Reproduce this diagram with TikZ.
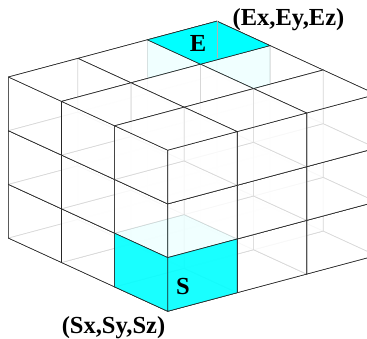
\documentclass[tikz,border=0pt]{standalone}
\usepackage{fontspec}
\setmainfont{Liberation Serif}
\definecolor{pure}{RGB}{0,255,255}
\tikzset{
  cellface/.style={fill=white,fill opacity=0.82,draw=black!85,line width=0.6pt,line join=round},
  label/.style={font=\fontsize{24.5}{26}\selectfont\bfseries,text=black,inner sep=0pt},
  lat/.style={x={(69.5pt,18.6pt)},y={(-53.1pt,24.4pt)},z={(0pt,53.7pt)},shift={(167.7pt,27.7pt)}}
}
\begin{document}
\begin{tikzpicture}[x=1pt,y=1pt]
\useasboundingbox (0,0) rectangle (367,339);
\fill[white] (0,0) rectangle (367,339);
\clip (0,0) rectangle (367,339);
\begin{scope}[lat]
  % back walls and floor
  \foreach \a in {0,1,2} \foreach \b in {0,1,2} {
    \draw[cellface] (\a,\b,0) -- ++(1,0,0) -- ++(0,1,0) -- ++(-1,0,0) -- cycle;
    \draw[cellface] (3,\a,\b) -- ++(0,1,0) -- ++(0,0,1) -- ++(0,-1,0) -- cycle;
    \draw[cellface] (\a,3,\b) -- ++(1,0,0) -- ++(0,0,1) -- ++(-1,0,0) -- cycle;
  }
  % cells, back to front
  \foreach \k in {0,1,2} \foreach \i in {2,1,0} \foreach \j in {2,1,0} {
    \draw[cellface] (\i,\j,\k) -- ++(0,1,0) -- ++(0,0,1) -- ++(0,-1,0) -- cycle;
    \draw[cellface] (\i,\j,\k) -- ++(1,0,0) -- ++(0,0,1) -- ++(-1,0,0) -- cycle;
    \draw[cellface] (\i,\j,\k+1) -- ++(1,0,0) -- ++(0,1,0) -- ++(-1,0,0) -- cycle;
  }
  % tinted faces
  \fill[pure,fill opacity=0.06] (2,2,3) -- (3,2,3) -- (2.236,1,3) -- (2,1,3) -- cycle;
  \fill[pure,fill opacity=0.06] (2,3,3) -- (2,2,3) -- (1.236,2,3) -- cycle;
  \fill[pure,fill opacity=0.06] (0,0,1) -- (1,0,1) -- (1,1,1) -- (0,1,1) -- cycle;
  \fill[pure,fill opacity=0.9] (0,0,0) -- (1,0,0) -- (1,0,1) -- (0,0,1) -- (0,1,1) -- (0,1,0) -- cycle;
  \draw[black!85,line width=0.6pt] (0,1,0) -- (0,0,0) -- (1,0,0) (0,1,1) -- (0,0,1) -- (1,0,1) (0,0,0) -- (0,0,1) (1,0,0) -- (1,0,1) (0,1,0) -- (0,1,1);
  \filldraw[fill=pure,draw=black!85,line width=0.6pt] (2,2,3) -- (3,2,3) -- (3,3,3) -- (2,3,3) -- cycle;
  \draw[black!30,line width=0.5pt] (3,3,3) -- ++(0,0,-0.68);
\end{scope}
\node[label] (ename) at (198,296) {E};
\node[label] (sname) at (183,52) {S};
\node[label] (ecoord) at (288.5,319) {(Ex,Ey,Ez)};
\node[label] (scoord) at (113.5,11) {(Sx,Sy,Sz)};
\end{tikzpicture}
\end{document}
